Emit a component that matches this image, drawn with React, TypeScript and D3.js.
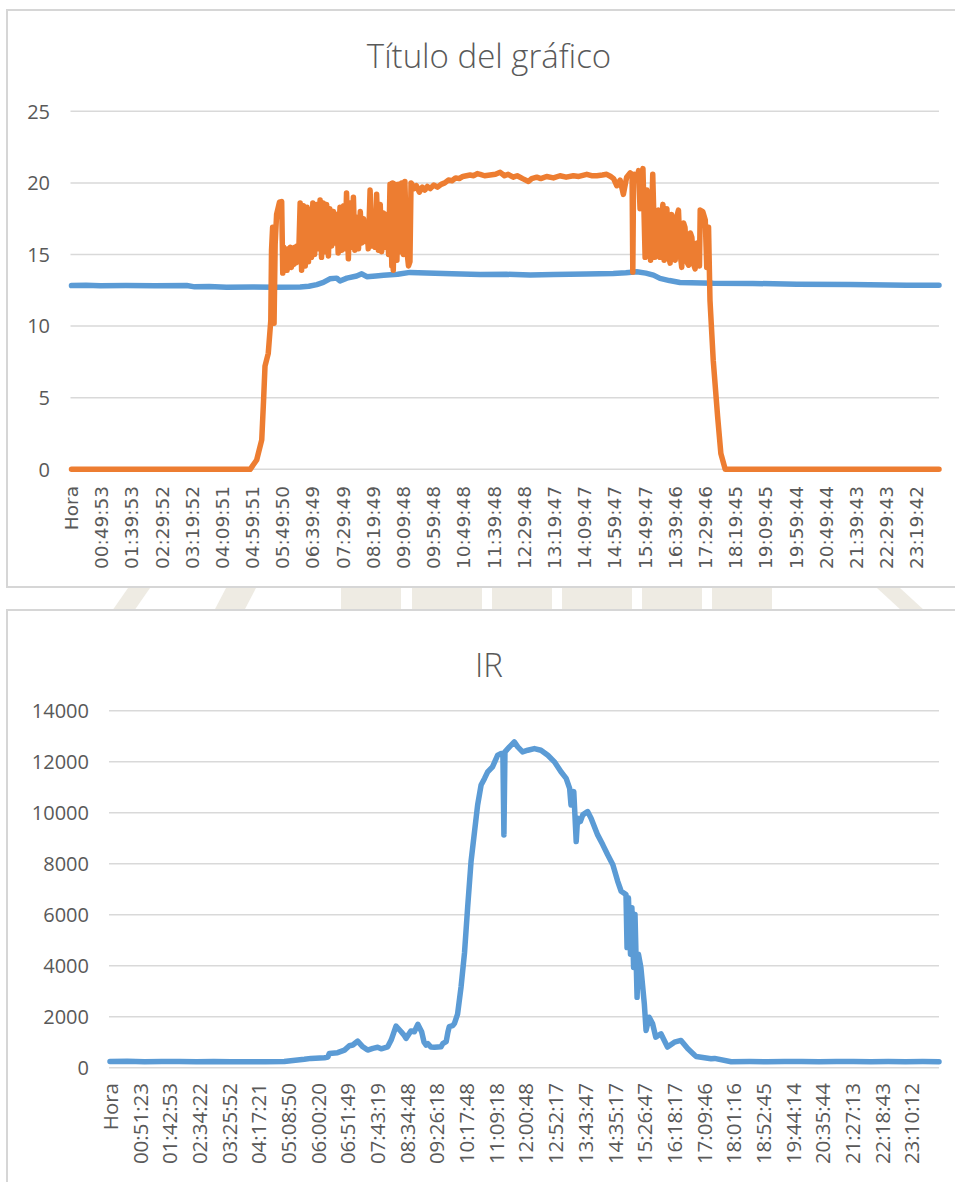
import React from "react";
import * as d3 from "d3";

// ---------- Data ----------
const TOP_TITLE = "Título del gráfico";
const IR_TITLE = "IR";

const TOP_X_LABELS = [
  "Hora", "00:49:53", "01:39:53", "02:29:52", "03:19:52", "04:09:51", "04:59:51",
  "05:49:50", "06:39:49", "07:29:49", "08:19:49", "09:09:48", "09:59:48", "10:49:48",
  "11:39:48", "12:29:48", "13:19:47", "14:09:47", "14:59:47", "15:49:47", "16:39:46",
  "17:29:46", "18:19:45", "19:09:45", "19:59:44", "20:49:44", "21:39:43", "22:29:43",
  "23:19:42",
];
const IR_X_LABELS = [
  "Hora", "00:51:23", "01:42:53", "02:34:22", "03:25:52", "04:17:21", "05:08:50",
  "06:00:20", "06:51:49", "07:43:19", "08:34:48", "09:26:18", "10:17:48", "11:09:18",
  "12:00:48", "12:52:17", "13:43:47", "14:35:17", "15:26:47", "16:18:17", "17:09:46",
  "18:01:16", "18:52:45", "19:44:14", "20:35:44", "21:27:13", "22:18:43", "23:10:12",
];
const TOP_Y_TICKS = [0, 5, 10, 15, 20, 25];
const IR_Y_TICKS = [0, 2000, 4000, 6000, 8000, 10000, 12000, 14000];

// [hour of day, value]
const TOP_BLUE: [number, number][] = [
  [0, 12.83], [0.4, 12.86], [0.8, 12.82], [1.5, 12.83], [2.3, 12.82], [3.18, 12.83],
  [3.4, 12.74], [3.8, 12.76], [4.28, 12.72], [5.0, 12.73], [5.6, 12.72], [6.31, 12.73],
  [6.55, 12.78], [6.77, 12.9], [6.95, 13.05], [7.13, 13.3], [7.32, 13.35], [7.41, 13.15],
  [7.6, 13.35], [7.87, 13.5], [8.01, 13.65], [8.15, 13.45], [8.4, 13.5], [8.61, 13.55],
  [9.0, 13.62], [9.34, 13.75], [9.8, 13.7], [10.5, 13.65], [11.28, 13.6], [12.0, 13.62],
  [12.66, 13.56], [13.3, 13.6], [14.2, 13.64], [14.95, 13.68], [15.3, 13.72], [15.6, 13.8],
  [15.85, 13.7], [16.06, 13.56], [16.24, 13.33], [16.5, 13.18], [16.79, 13.05],
  [17.71, 12.99], [18.8, 12.98], [20.02, 12.92], [21.5, 12.9], [23.05, 12.85], [23.94, 12.85],
];

const TOP_ORANGE: [number, number][] = [
  [0, 0], [4.93, 0], [5.11, 0.65], [5.25, 2.05], [5.3, 4.8], [5.34, 7.2], [5.43, 8.1],
  [5.5, 10.4], [5.52, 15.3], [5.55, 16.9], [5.59, 10.2], [5.62, 15.7], [5.66, 17.8],
  [5.74, 18.65], [5.8, 18.7], [5.83, 13.7],
  [5.86, 15.5], [5.89, 14.0], [5.92, 15.3], [5.95, 13.9], [5.98, 15.4], [6.01, 14.2],
  [6.04, 15.5], [6.07, 14.1], [6.1, 15.3], [6.13, 14.3], [6.16, 15.5], [6.19, 14.4],
  [6.22, 15.6], [6.25, 14.5], [6.27, 15.0],
  [6.31, 18.6], [6.35, 13.9], [6.4, 18.4], [6.45, 14.2], [6.5, 18.3], [6.54, 14.5],
  [6.58, 18.1], [6.62, 14.8], [6.66, 18.6], [6.71, 15.0], [6.77, 18.5], [6.81, 15.4],
  [6.86, 18.8], [6.9, 14.8], [6.95, 18.6], [7.0, 15.2], [7.04, 18.5], [7.09, 14.9],
  [7.13, 18.2], [7.18, 15.6], [7.23, 18.0], [7.27, 15.8], [7.32, 17.8], [7.36, 15.1],
  [7.41, 18.3], [7.46, 15.3], [7.51, 18.4], [7.55, 15.4], [7.59, 19.3], [7.64, 14.7],
  [7.69, 18.6], [7.73, 15.5], [7.78, 19.0], [7.82, 15.3], [7.87, 17.6], [7.92, 15.4],
  [7.97, 18.0], [8.01, 15.8], [8.06, 17.5], [8.1, 15.9], [8.15, 17.2], [8.19, 15.4],
  [8.24, 19.5], [8.29, 15.6], [8.33, 17.7], [8.38, 15.5], [8.42, 19.2], [8.47, 15.3],
  [8.52, 18.5], [8.56, 15.2], [8.61, 17.9], [8.65, 15.5], [8.7, 17.8], [8.75, 15.0],
  [8.79, 19.9], [8.84, 14.2], [8.86, 20.0], [8.88, 13.9], [8.93, 19.9], [8.98, 14.6],
  [9.02, 19.9], [9.07, 15.2], [9.11, 20.0], [9.16, 15.0], [9.2, 20.1], [9.25, 15.4],
  [9.3, 14.2], [9.34, 14.5], [9.37, 20.0], [9.4, 19.9],
  [9.45, 19.6], [9.52, 19.8], [9.6, 19.35], [9.68, 19.7], [9.75, 19.5], [9.82, 19.75],
  [9.9, 19.6], [10.0, 19.85], [10.1, 19.7], [10.2, 19.9], [10.3, 20.0], [10.4, 20.2],
  [10.5, 20.15], [10.6, 20.35], [10.7, 20.3], [10.8, 20.45], [10.9, 20.5], [11.0, 20.55],
  [11.1, 20.5], [11.2, 20.65], [11.28, 20.6], [11.4, 20.5], [11.55, 20.55], [11.7, 20.6],
  [11.83, 20.74], [11.95, 20.5], [12.05, 20.6], [12.19, 20.4], [12.3, 20.5], [12.45, 20.3],
  [12.61, 20.1], [12.7, 20.3], [12.84, 20.4], [12.95, 20.3], [13.11, 20.45], [13.3, 20.35],
  [13.48, 20.5], [13.65, 20.4], [13.85, 20.5], [14.0, 20.45], [14.22, 20.6], [14.35, 20.5],
  [14.5, 20.5], [14.65, 20.55], [14.77, 20.6], [14.88, 20.45], [14.96, 20.3], [15.05, 19.8],
  [15.14, 20.2], [15.23, 19.2], [15.32, 20.4], [15.42, 20.7], [15.47, 20.6], [15.49, 13.77],
  [15.51, 20.0], [15.53, 20.6], [15.6, 20.3], [15.65, 20.86], [15.69, 18.2], [15.73, 20.5],
  [15.77, 21.0], [15.83, 14.8], [15.88, 19.5], [15.92, 18.8], [15.98, 14.6], [16.04, 20.6],
  [16.1, 14.8], [16.15, 17.5], [16.2, 18.1], [16.24, 14.8], [16.28, 17.2], [16.32, 18.5],
  [16.355, 14.6], [16.39, 17.0], [16.43, 18.2], [16.48, 14.9], [16.52, 14.4], [16.56, 17.8],
  [16.61, 15.0], [16.66, 14.6], [16.7, 17.6], [16.75, 18.1], [16.8, 15.0], [16.84, 14.1],
  [16.89, 17.2], [16.93, 16.9], [16.98, 14.5], [17.03, 14.25], [17.08, 16.5], [17.12, 16.2],
  [17.17, 14.3], [17.21, 14.0], [17.26, 15.8], [17.3, 15.5], [17.33, 14.2], [17.35, 18.1],
  [17.42, 18.0], [17.49, 17.4], [17.53, 14.1], [17.58, 16.9], [17.62, 11.8], [17.71, 7.6],
  [17.83, 3.7], [17.92, 1.1], [18.04, 0], [23.94, 0],
];

const IR_VALUES: [number, number][] = [
  [0, 240], [0.5, 250], [1, 235], [1.5, 245], [2, 240], [2.5, 235], [3, 240], [3.5, 230],
  [4, 235], [4.5, 235], [5.04, 240], [5.23, 275], [5.62, 330], [5.81, 365], [6.2, 390],
  [6.3, 420], [6.34, 560], [6.58, 590], [6.78, 690], [6.92, 860], [7.02, 890], [7.16, 1045],
  [7.31, 820], [7.45, 690], [7.6, 760], [7.74, 800], [7.84, 740], [8.03, 820], [8.13, 1085],
  [8.27, 1630], [8.42, 1410], [8.51, 1260], [8.56, 1150], [8.7, 1440], [8.8, 1410],
  [8.9, 1700], [9.01, 1410], [9.08, 1000], [9.14, 890], [9.19, 940], [9.28, 810], [9.38, 800],
  [9.48, 810], [9.57, 820], [9.62, 940], [9.72, 1020], [9.77, 1390], [9.81, 1610],
  [9.91, 1650], [9.96, 1740], [10.05, 2100], [10.15, 3160], [10.25, 4500], [10.34, 6270],
  [10.44, 8090], [10.54, 9260], [10.63, 10300], [10.73, 11085], [10.83, 11345],
  [10.92, 11600], [11.06, 11800], [11.21, 12255], [11.31, 12320], [11.36, 12320],
  [11.39, 9130], [11.42, 12385], [11.55, 12580], [11.69, 12775], [11.79, 12580],
  [11.93, 12385], [12.08, 12450], [12.27, 12515], [12.46, 12450], [12.66, 12255],
  [12.85, 11995], [13.04, 11605], [13.19, 11345], [13.29, 10955], [13.33, 10300],
  [13.41, 10825], [13.48, 8870], [13.52, 9785], [13.6, 9655], [13.67, 9915], [13.81, 10045],
  [13.91, 9785], [14.1, 9130], [14.25, 8740], [14.39, 8350], [14.54, 7960], [14.68, 7310],
  [14.78, 6920], [14.92, 6790], [14.95, 4710], [14.99, 6660], [15.05, 4450], [15.09, 6270],
  [15.14, 3930], [15.18, 6010], [15.24, 2760], [15.28, 4450], [15.35, 3930], [15.45, 2500],
  [15.5, 1460], [15.59, 1980], [15.69, 1720], [15.78, 1200], [15.93, 1330], [16.12, 810],
  [16.32, 1000], [16.51, 1070], [16.71, 740], [16.9, 500], [16.95, 440], [17.38, 350],
  [17.48, 365], [17.96, 235], [18.5, 240], [19, 235], [19.5, 245], [20, 240], [20.5, 235],
  [21, 245], [21.5, 240], [22, 235], [22.5, 240], [23, 235], [23.5, 240], [23.97, 235],
];

// ---------- Helpers ----------
const BLUE = "#5B9BD5";
const ORANGE = "#ED7D31";
const GRID = "#d9d9d9";
const TXT = "#595959";

function labelHours(label: string): number {
  if (label === "Hora") return 0;
  const [h, m, s] = label.split(":").map(Number);
  return h + m / 60 + s / 3600;
}

type Series = { data: [number, number][]; color: string };

function Panel(props: {
  top: number;
  height: number;
  title: string;
  titleY: number;
  titleSize: number;
  xDomain: [number, number];
  xRange: [number, number];
  yDomain: [number, number];
  yRange: [number, number];
  yTicks: number[];
  yLabelX: number;
  xLabels: string[];
  xLabelY: number;
  xLabelFont: string;
  xLabelSize: number;
  series: Series[];
}) {
  const x = d3.scaleLinear().domain(props.xDomain).range(props.xRange);
  const y = d3.scaleLinear().domain(props.yDomain).range(props.yRange);
  const line = d3
    .line<[number, number]>()
    .x((d) => x(d[0]))
    .y((d) => y(d[1]));
  const gridLeft = props.xRange[0] - 1;
  return (
    <g>
      <rect x={7} y={props.top} width={990} height={props.height} fill="#fff" stroke="#d6d6d6" strokeWidth={2} />
      <text x={489} y={props.titleY} textAnchor="middle" fontFamily="'Open Sans', sans-serif" fontWeight={300} fontSize={props.titleSize} fill={TXT}>
        {props.title}
      </text>
      {props.yTicks.map((t) => (
        <g key={t}>
          <line x1={gridLeft} x2={939} y1={y(t)} y2={y(t)} stroke={GRID} strokeWidth={1.5} />
          <text x={props.yLabelX} y={y(t)} dy="0.36em" textAnchor="end" fontFamily="'Open Sans', sans-serif" fontSize={20} fill={TXT}>
            {t}
          </text>
        </g>
      ))}
      {props.series.map((s, i) => (
        <path key={i} d={line(s.data) || ""} fill="none" stroke={s.color} strokeWidth={5.5} strokeLinejoin="round" strokeLinecap="round" />
      ))}
      {props.xLabels.map((l) => {
        const px = x(labelHours(l));
        return (
          <text
            key={l}
            transform={`translate(${px},${props.xLabelY}) rotate(-90)`}
            textAnchor="end"
            dominantBaseline="central"
            fontFamily={props.xLabelFont}
            fontSize={props.xLabelSize}
            fill={TXT}
          >
            {l}
          </text>
        );
      })}
    </g>
  );
}

export default function App() {
  return (
    <svg width={955} height={1182} style={{ position: "absolute", left: 0, top: 0, background: "#fff" }}>
      {/* faint watermark visible between panels */}
      <g fill="#eeebe3">
        <polygon points="112,611 128,588 150,588 134,611" />
        <polygon points="214,611 226,588 256,588 244,611" />
        <rect x={341} y={588} width={60} height={23} />
        <rect x={412} y={588} width={70} height={23} />
        <rect x={492} y={588} width={60} height={23} />
        <rect x={562} y={588} width={70} height={23} />
        <rect x={642} y={588} width={60} height={23} />
        <rect x={712} y={588} width={60} height={23} />
        <polygon points="877,588 900,588 925,611 902,611" />
      </g>
      <Panel
        top={10}
        height={577}
        title={TOP_TITLE}
        titleY={68}
        titleSize={33}
        xDomain={[0, 23.94]}
        xRange={[71.5, 939]}
        yDomain={[0, 25]}
        yRange={[469.3, 111.3]}
        yTicks={TOP_Y_TICKS}
        yLabelX={50}
        xLabels={TOP_X_LABELS}
        xLabelY={486}
        xLabelFont="'DejaVu Sans', sans-serif"
        xLabelSize={18.5}
        series={[
          { data: TOP_BLUE, color: BLUE },
          { data: TOP_ORANGE, color: ORANGE },
        ]}
      />
      <Panel
        top={610}
        height={600}
        title={IR_TITLE}
        titleY={677}
        titleSize={33}
        xDomain={[0, 23.97]}
        xRange={[110, 939]}
        yDomain={[0, 14000]}
        yRange={[1067.7, 710.7]}
        yTicks={IR_Y_TICKS}
        yLabelX={89}
        xLabels={IR_X_LABELS}
        xLabelY={1083}
        xLabelFont="'Open Sans', sans-serif"
        xLabelSize={20.5}
        series={[{ data: IR_VALUES, color: BLUE }]}
      />
    </svg>
  );
}
